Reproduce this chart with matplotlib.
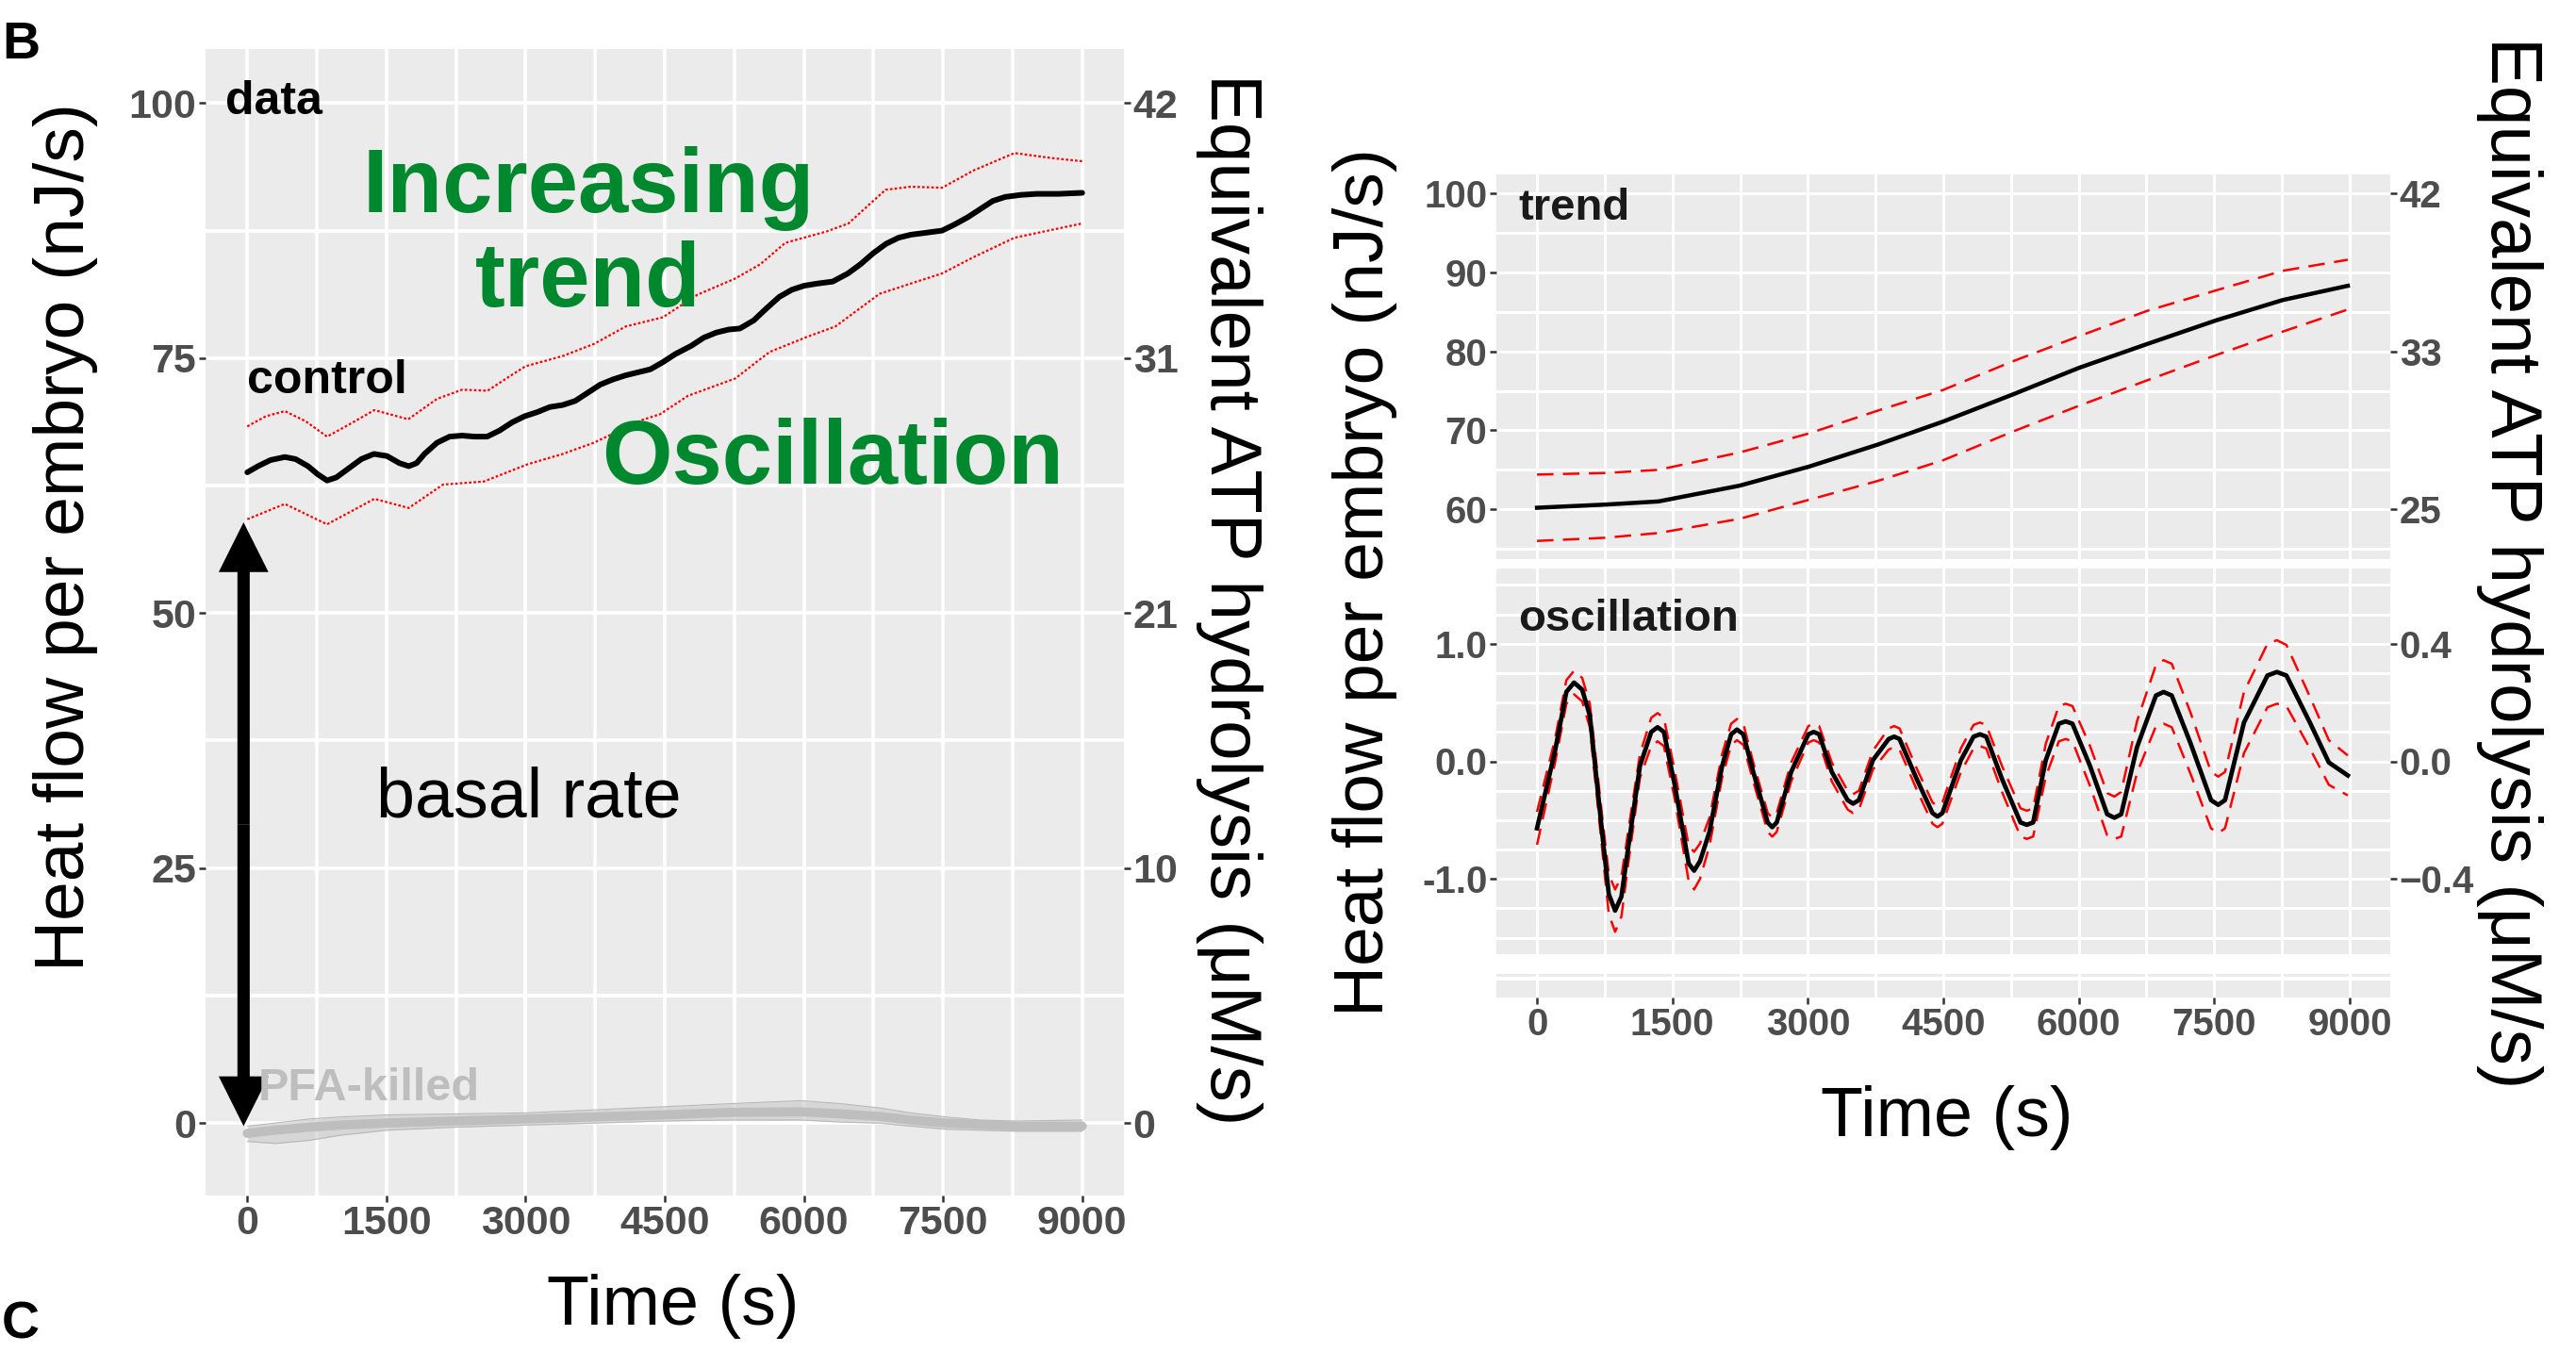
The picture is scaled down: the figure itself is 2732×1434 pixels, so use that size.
import matplotlib.pyplot as plt
import numpy as np

plt.rcParams['font.family'] = ['Liberation Sans', 'DejaVu Sans']

# left panel: control embryos (mean and band), PFA-killed
ctrl_t = [0, 115, 250, 405, 520, 655, 760, 860, 960, 1095, 1230, 1365, 1505, 1640, 1740,
          1825, 1910, 2045, 2180, 2315, 2450, 2585, 2720, 2855, 2990, 3125, 3260, 3400,
          3535, 3670, 3805, 3940, 4075, 4210, 4345, 4480, 4615, 4785, 4920, 5055, 5190,
          5310, 5460, 5600, 5735, 5870, 6005, 6140, 6310, 6475, 6610, 6750, 6885, 7020,
          7155, 7325, 7490, 7625, 7765, 7900, 8035, 8170, 8340, 8510, 8745, 9000]
ctrl = [63.8, 64.4, 65.0, 65.3, 65.1, 64.4, 63.6, 63.0, 63.3, 64.2, 65.1, 65.6, 65.4, 64.7, 64.4,
        64.7, 65.6, 66.7, 67.3, 67.4, 67.3, 67.3, 67.9, 68.7, 69.3, 69.7, 70.2, 70.4,
        70.8, 71.6, 72.4, 72.9, 73.3, 73.6, 73.9, 74.6, 75.4, 76.2, 77.0, 77.5, 77.8,
        77.9, 78.7, 79.9, 81.0, 81.7, 82.1, 82.3, 82.5, 83.3, 84.2, 85.3, 86.2, 86.8,
        87.1, 87.3, 87.5, 88.1, 88.8, 89.6, 90.4, 90.8, 91.0, 91.1, 91.1, 91.2]

ctrl_hi_t = [0, 200, 405, 630, 860, 1100, 1370, 1735, 2045, 2315, 2590, 2860, 3000, 3400,
             3740, 4080, 4480, 4850, 5260, 5530, 5800, 6240, 6480, 6880, 7150, 7490, 7830,
             8270, 8680, 9000]
ctrl_hi = [68.3, 69.3, 69.8, 68.8, 67.3, 68.5, 69.9, 69.0, 71.0, 71.9, 71.8, 73.4, 74.2, 75.2,
           76.4, 78.1, 79.0, 81.2, 82.8, 84.2, 86.3, 87.4, 88.2, 91.5, 91.8, 91.7, 93.4,
           95.1, 94.6, 94.3]
ctrl_lo_t = [0, 405, 860, 1370, 1740, 2110, 2550, 3025, 3400, 3735, 4245, 4450, 4750, 5260,
             5630, 6040, 6340, 6815, 7150, 7490, 7830, 8270, 9000]
ctrl_lo = [59.2, 60.7, 58.7, 61.2, 60.3, 62.6, 62.9, 64.6, 65.6, 66.7, 68.9, 69.5, 71.3, 73.0,
           75.6, 77.1, 78.1, 81.3, 82.3, 83.3, 84.9, 86.8, 88.2]

pfa_t = [0, 300, 665, 1000, 1510, 2250, 3000, 3750, 4485, 5200, 5975, 6400, 6810, 7150,
         7530, 7900, 8300, 9000]
pfa = [-1.0, -0.7, -0.4, -0.2, 0.0, 0.2, 0.4, 0.6, 0.8, 1.05, 1.1, 0.9, 0.65, 0.3,
       0.0, -0.15, -0.3, -0.3]
pfa_hi = [-0.3, 0.0, 0.4, 0.6, 0.8, 0.9, 1.0, 1.3, 1.6, 1.9, 2.2, 1.9, 1.5, 1.0,
          0.6, 0.3, 0.2, 0.3]
pfa_lo = [-1.8, -2.0, -1.7, -1.2, -0.7, -0.4, -0.2, 0.0, 0.2, 0.3, 0.3, 0.1, 0.0, -0.3,
          -0.6, -0.7, -0.8, -0.8]

# right panels: trend and oscillation components
trend_t = [0, 755, 1345, 2245, 3010, 3775, 4495, 5260, 6000, 6750, 7515, 8260, 8980]
trend = [60.2, 60.6, 61.0, 63.0, 65.4, 68.2, 71.1, 74.5, 77.9, 80.9, 83.9, 86.5, 88.3]
trend_hi = [64.4, 64.6, 65.0, 67.2, 69.6, 72.5, 75.1, 78.7, 81.9, 85.1, 87.7, 90.2, 91.6]
trend_lo = [56.0, 56.4, 57.0, 58.8, 61.2, 63.6, 66.2, 69.8, 73.1, 76.3, 79.5, 82.5, 85.3]

osc_t = [0, 200, 325, 410, 500, 585, 725, 795, 865, 935, 1005, 1140, 1265, 1335, 1405,
         1525, 1680, 1740, 1805, 1910, 2050, 2150, 2215, 2285, 2395, 2555, 2605, 2655,
         2815, 3005, 3065, 3125, 3265, 3440, 3500, 3565, 3720, 3895, 3955, 4015, 4205,
         4380, 4435, 4490, 4695, 4835, 4905, 4975, 5150, 5355, 5425, 5495, 5635, 5780,
         5855, 5930, 6125, 6315, 6395, 6470, 6645, 6855, 6940, 7030, 7240, 7465, 7545,
         7620, 7830, 8090, 8195, 8300, 8560, 8770, 8980]
osc = [-0.57, 0.09, 0.59, 0.67, 0.61, 0.39, -0.63, -1.13, -1.27, -1.15, -0.76, -0.04, 0.25, 0.29, 0.25,
       -0.20, -0.87, -0.93, -0.85, -0.60, -0.04, 0.23, 0.27, 0.23, -0.09, -0.52, -0.56, -0.52,
       -0.09, 0.23, 0.25, 0.23, -0.09, -0.33, -0.36, -0.33, 0.01, 0.19, 0.21, 0.19, -0.15,
       -0.44, -0.47, -0.44, 0.01, 0.21, 0.23, 0.21, -0.15, -0.52, -0.54, -0.52, 0.01, 0.32,
       0.34, 0.32, -0.04, -0.45, -0.48, -0.45, 0.12, 0.56, 0.59, 0.56, 0.15, -0.33, -0.37,
       -0.33, 0.33, 0.73, 0.76, 0.73, 0.33, -0.01, -0.12]
osc_sd = [0.14, 0.10, 0.10, 0.10, 0.10, 0.10, 0.14, 0.17, 0.18, 0.17, 0.14, 0.10, 0.12, 0.12, 0.12,
          0.12, 0.15, 0.16, 0.15, 0.12, 0.10, 0.09, 0.09, 0.09, 0.08, 0.08, 0.08, 0.08,
          0.08, 0.07, 0.07, 0.07, 0.08, 0.08, 0.08, 0.08, 0.08, 0.09, 0.09, 0.09, 0.09,
          0.09, 0.09, 0.09, 0.10, 0.10, 0.10, 0.10, 0.11, 0.12, 0.12, 0.12, 0.14, 0.15,
          0.15, 0.15, 0.17, 0.18, 0.18, 0.19, 0.22, 0.26, 0.27, 0.27, 0.26, 0.24, 0.24,
          0.24, 0.26, 0.27, 0.27, 0.26, 0.22, 0.19, 0.17]

time_ticks = [0, 1500, 3000, 4500, 6000, 7500, 9000]
time_minor = [750, 2250, 3750, 5250, 6750, 8250]

W, H = 2732, 1434
fig = plt.figure(figsize=(W / 100, H / 100), dpi=100)

BG = '#EBEBEB'
TICKCOL = '#4D4D4D'
GREEN = '#00882E'


def box(x0, y0, x1, y1):
    # pixel box -> figure fraction
    return [x0 / W, 1 - y1 / H, (x1 - x0) / W, (y1 - y0) / H]


def style(ax, ymaj, ymin, gridlw, fs, xlabels=True):
    ax.set_facecolor(BG)
    for s in ax.spines.values():
        s.set_visible(False)
    ax.set_xlim(-450, 9450)
    ax.set_xticks(time_ticks)
    ax.set_xticks(time_minor, minor=True)
    ax.set_yticks(ymaj)
    ax.set_yticks(ymin, minor=True)
    ax.grid(which='both', color='white', lw=gridlw)
    ax.set_axisbelow(True)
    ax.tick_params(which='minor', length=0)
    ax.tick_params(which='major', length=5, width=1.8, color='#333333', pad=2,
                   labelsize=fs, labelcolor=TICKCOL)
    for lab in ax.get_xticklabels() + ax.get_yticklabels():
        lab.set_fontweight('bold')
    if not xlabels:
        ax.tick_params(axis='x', length=0, labelbottom=False)


def right_labels(ax, ticks, labels, fs):
    ax2 = ax.twinx()
    ax2.set_ylim(ax.get_ylim())
    for s in ax2.spines.values():
        s.set_visible(False)
    ax2.set_yticks(ticks, labels)
    ax2.tick_params(length=5, width=1.8, color='#333333', pad=2, labelsize=fs, labelcolor=TICKCOL)
    for lab in ax2.get_yticklabels():
        lab.set_fontweight('bold')
    return ax2


# ---------- left panel ----------
ax = fig.add_axes(box(218, 52, 1192, 1268))
ax.set_ylim(-7.1, 105.3)
style(ax, [0, 25, 50, 75, 100], [12.5, 37.5, 62.5, 87.5], 2.6, 31)
ax.set_xticks(time_ticks, [str(v) for v in time_ticks])
for lab in ax.get_xticklabels():
    lab.set_fontweight('bold')

ax.fill_between(pfa_t, pfa_lo, pfa_hi, color='#C8C8C8', alpha=0.6, lw=0)
ax.plot(pfa_t, pfa_hi, color='#B8B8B8', lw=0.8)
ax.plot(pfa_t, pfa_lo, color='#B8B8B8', lw=0.8)
ax.plot(pfa_t, pfa, color='#BEBEBE', lw=7, solid_capstyle='round')

ax.plot(ctrl_hi_t, ctrl_hi, color='red', lw=1.6, ls=(0, (1.2, 1.0)))
ax.plot(ctrl_lo_t, ctrl_lo, color='red', lw=1.6, ls=(0, (1.2, 1.0)))
ax.plot(ctrl_t, ctrl, color='black', lw=4.3, solid_capstyle='round')

# double arrow for basal rate
for a, b in [((-40, 29.3), (-40, 58.9)), ((-40, 29.3), (-40, -0.3))]:
    ax.annotate('', xy=b, xytext=a,
                arrowprops=dict(arrowstyle='simple,head_length=0.38,head_width=0.38,tail_width=0.094',
                                mutation_scale=100, fc='black', ec='none', lw=0,
                                shrinkA=0, shrinkB=0))

ax.text(-234, 100.1, 'data', fontsize=36, fontweight='bold', va='center', ha='left')
ax.text(0, 72.8, 'control', fontsize=36, fontweight='bold', va='center', ha='left')
ax.text(112, 3.4, 'PFA-killed', fontsize=35, fontweight='bold', color='#BEBEBE',
        va='center', ha='left')
ax.text(3675, 91.6, 'Increasing', fontsize=69, fontweight='bold', color=GREEN,
        ha='center', va='center')
ax.text(3675, 82.4, 'trend', fontsize=69, fontweight='bold', color=GREEN,
        ha='center', va='center')
ax.text(6305, 65.0, 'Oscillation', fontsize=69, fontweight='bold', color=GREEN,
        ha='center', va='center')
ax.text(3036, 31.8, 'basal rate', fontsize=53, ha='center', va='center')

right_labels(ax, [0, 25, 50, 75, 100], ['0', '10', '21', '31', '42'], 31)

# ---------- right panels ----------
axT = fig.add_axes(box(1587, 185, 2535, 593))
axT.set_ylim(53.7, 102.4)
style(axT, [60, 70, 80, 90, 100], [55, 65, 75, 85, 95], 2.2, 29, xlabels=False)
axT.plot(trend_t, trend_hi, color='red', lw=1.8, ls=(0, (7, 4)))
axT.plot(trend_t, trend_lo, color='red', lw=1.8, ls=(0, (7, 4)))
axT.plot(trend_t, trend, color='black', lw=3.2)
axT.text(-206, 98.1, 'trend', fontsize=34, fontweight='bold', color='#1A1A1A',
         ha='left', va='center')
right_labels(axT, [60, 80, 100], ['25', '33', '42'], 29)

axO = fig.add_axes(box(1587, 603, 2535, 1012))
axO.set_ylim(-1.64, 1.64)
style(axO, [-1, 0, 1], [-1.5, -1.25, -0.75, -0.5, -0.25, 0.25, 0.5, 0.75, 1.25, 1.5],
      2.2, 29, xlabels=False)
axO.set_yticks([-1, 0, 1], ['-1.0', '0.0', '1.0'])
for lab in axO.get_yticklabels():
    lab.set_fontweight('bold')
osc_a = np.array(osc)
osc_s = np.array(osc_sd)
axO.plot(osc_t, osc_a + osc_s, color='red', lw=1.8, ls=(0, (7, 4)))
axO.plot(osc_t, osc_a - osc_s, color='red', lw=1.8, ls=(0, (7, 4)))
axO.plot(osc_t, osc, color='black', lw=3.4, solid_joinstyle='round')
axO.text(-206, 1.21, 'oscillation', fontsize=34, fontweight='bold', color='#1A1A1A',
         ha='left', va='center')
right_labels(axO, [-1, 0, 1], ['\u22120.4', '0.0', '0.4'], 29)

# cut-off strip under the oscillation panel
axS = fig.add_axes(box(1587, 1033, 2535, 1058))
axS.set_ylim(0, 1)
style(axS, [], [], 2.2, 29)
axS.axhline(0.8, color='white', lw=3)
axS.set_xticks(time_ticks, [str(v) for v in time_ticks])
for lab in axS.get_xticklabels():
    lab.set_fontweight('bold')

# axis titles
fig.text(70 / W, 1 - 570 / H, 'Heat flow per embryo (nJ/s)', fontsize=54, rotation=90,
         ha='center', va='center')
fig.text(1304 / W, 1 - 636 / H, 'Equivalent ATP hydrolysis (\u03bcM/s)', fontsize=55,
         rotation=270, ha='center', va='center')
fig.text(714 / W, 1 - 1385 / H, 'Time (s)', fontsize=53, ha='center', va='center')

fig.text(1447 / W, 1 - 618 / H, 'Heat flow per embryo (nJ/s)', fontsize=54, rotation=90,
         ha='center', va='center')
fig.text(2662 / W, 1 - 597 / H, 'Equivalent ATP hydrolysis (\u03bcM/s)', fontsize=55,
         rotation=270, ha='center', va='center')
fig.text(2065 / W, 1 - 1185 / H, 'Time (s)', fontsize=53, ha='center', va='center')

# panel letters at the left edge
fig.text(2 / W, 1 - 62 / H, 'B', fontsize=40, fontweight='bold', va='baseline')
fig.text(2 / W, 1 - 1420 / H, 'C', fontsize=40, fontweight='bold', va='baseline')

fig.savefig('out.png', dpi=100)
